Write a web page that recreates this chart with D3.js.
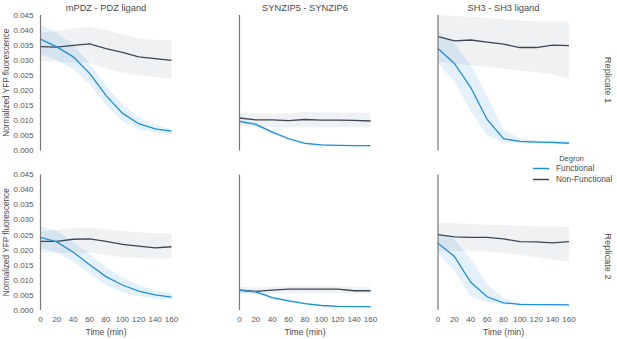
<!DOCTYPE html>
<html>
<head>
<meta charset="utf-8">
<script src="https://cdn.jsdelivr.net/npm/d3@7"></script>
<style>
  body { margin: 0; background: #fff; }
  text { font-family: "Liberation Sans", Arial, sans-serif; }
</style>
</head>
<body>
<div id="chart"></div>
<script>
//////////
// DATA //
//////////

var times = [0, 20, 40, 60, 80, 100, 120, 140, 160];
var yTicks = [0, 0.005, 0.01, 0.015, 0.02, 0.025, 0.03, 0.035, 0.04, 0.045];
var panelTitles = ["mPDZ - PDZ ligand", "SYNZIP5 - SYNZIP6", "SH3 - SH3 ligand"];
var rowTitles = ["Replicate 1", "Replicate 2"];
var degrons = ["Functional", "Non-Functional"];

// mPDZ, replicate 1
var pdzR1Func   = [0.0370, 0.0344, 0.0311, 0.0256, 0.0183, 0.0124, 0.0089, 0.0072, 0.0064];
var pdzR1FuncLo = [0.0320, 0.0300, 0.0270, 0.0220, 0.0152, 0.0097, 0.0070, 0.0060, 0.0056];
var pdzR1FuncHi = [0.0418, 0.0390, 0.0352, 0.0290, 0.0215, 0.0155, 0.0110, 0.0085, 0.0072];
var pdzR1Non    = [0.0345, 0.0343, 0.0349, 0.0354, 0.0338, 0.0326, 0.0311, 0.0305, 0.0299];
var pdzR1NonLo  = [0.0298, 0.0295, 0.0291, 0.0292, 0.0272, 0.0258, 0.0250, 0.0245, 0.0237];
var pdzR1NonHi  = [0.0392, 0.0396, 0.0405, 0.0410, 0.0400, 0.0386, 0.0372, 0.0368, 0.0366];

// mPDZ, replicate 2
var pdzR2Func   = [0.0241, 0.0226, 0.0192, 0.0150, 0.0111, 0.0083, 0.0063, 0.0050, 0.0043];
var pdzR2FuncLo = [0.0206, 0.0192, 0.0160, 0.0120, 0.0082, 0.0060, 0.0046, 0.0038, 0.0035];
var pdzR2FuncHi = [0.0278, 0.0262, 0.0226, 0.0185, 0.0142, 0.0108, 0.0083, 0.0065, 0.0055];
var pdzR2Non    = [0.0228, 0.0228, 0.0235, 0.0236, 0.0228, 0.0218, 0.0212, 0.0206, 0.0210];
var pdzR2NonLo  = [0.0192, 0.0190, 0.0190, 0.0190, 0.0182, 0.0175, 0.0172, 0.0171, 0.0170];
var pdzR2NonHi  = [0.0261, 0.0266, 0.0272, 0.0274, 0.0268, 0.0262, 0.0258, 0.0255, 0.0255];

// SYNZIP, replicate 1
var synR1Func   = [0.0097, 0.0087, 0.0061, 0.0039, 0.0024, 0.0019, 0.0017, 0.0016, 0.0016];
var synR1FuncLo = [0.0092, 0.0081, 0.0055, 0.0034, 0.0020, 0.0016, 0.0015, 0.0014, 0.0014];
var synR1FuncHi = [0.0102, 0.0093, 0.0067, 0.0045, 0.0029, 0.0022, 0.0019, 0.0018, 0.0018];
var synR1Non    = [0.0108, 0.0102, 0.0102, 0.0099, 0.0103, 0.0101, 0.0101, 0.0100, 0.0098];
var synR1NonLo  = [0.0082, 0.0078, 0.0077, 0.0076, 0.0078, 0.0077, 0.0077, 0.0077, 0.0076];
var synR1NonHi  = [0.0126, 0.0124, 0.0124, 0.0123, 0.0128, 0.0126, 0.0126, 0.0125, 0.0124];

// SYNZIP, replicate 2
var synR2Func   = [0.0065, 0.0060, 0.0041, 0.0030, 0.0021, 0.0015, 0.0012, 0.0011, 0.0011];
var synR2FuncLo = [0.0058, 0.0054, 0.0036, 0.0026, 0.0018, 0.0013, 0.0010, 0.0009, 0.0009];
var synR2FuncHi = [0.0072, 0.0066, 0.0046, 0.0034, 0.0024, 0.0017, 0.0014, 0.0013, 0.0013];
var synR2Non    = [0.0066, 0.0062, 0.0066, 0.0069, 0.0069, 0.0069, 0.0069, 0.0064, 0.0064];
var synR2NonLo  = [0.0054, 0.0053, 0.0055, 0.0056, 0.0056, 0.0056, 0.0056, 0.0054, 0.0054];
var synR2NonHi  = [0.0078, 0.0075, 0.0078, 0.0080, 0.0080, 0.0080, 0.0080, 0.0076, 0.0076];

// SH3, replicate 1
var sh3R1Func   = [0.0339, 0.0289, 0.0209, 0.0103, 0.0039, 0.0030, 0.0028, 0.0027, 0.0024];
var sh3R1FuncLo = [0.0290, 0.0230, 0.0130, 0.0050, 0.0028, 0.0025, 0.0023, 0.0022, 0.0021];
var sh3R1FuncHi = [0.0395, 0.0355, 0.0283, 0.0180, 0.0070, 0.0040, 0.0033, 0.0032, 0.0032];
var sh3R1Non    = [0.0378, 0.0364, 0.0367, 0.0360, 0.0353, 0.0342, 0.0342, 0.0350, 0.0348];
var sh3R1NonLo  = [0.0294, 0.0288, 0.0283, 0.0278, 0.0272, 0.0266, 0.0260, 0.0252, 0.0239];
var sh3R1NonHi  = [0.0450, 0.0447, 0.0444, 0.0440, 0.0436, 0.0432, 0.0428, 0.0428, 0.0428];

// SH3, replicate 2
var sh3R2Func   = [0.0222, 0.0178, 0.0092, 0.0044, 0.0024, 0.0019, 0.0018, 0.0018, 0.0017];
var sh3R2FuncLo = [0.0187, 0.0130, 0.0045, 0.0025, 0.0018, 0.0016, 0.0015, 0.0015, 0.0014];
var sh3R2FuncHi = [0.0255, 0.0235, 0.0170, 0.0085, 0.0040, 0.0025, 0.0021, 0.0021, 0.0020];
var sh3R2Non    = [0.0250, 0.0243, 0.0241, 0.0241, 0.0236, 0.0227, 0.0226, 0.0223, 0.0227];
var sh3R2NonLo  = [0.0197, 0.0196, 0.0195, 0.0194, 0.0190, 0.0183, 0.0175, 0.0168, 0.0161];
var sh3R2NonHi  = [0.0291, 0.0288, 0.0286, 0.0283, 0.0282, 0.0280, 0.0278, 0.0277, 0.0276];

// rows x columns
var panels = [
  [ [pdzR1Func, pdzR1FuncLo, pdzR1FuncHi, pdzR1Non, pdzR1NonLo, pdzR1NonHi],
    [synR1Func, synR1FuncLo, synR1FuncHi, synR1Non, synR1NonLo, synR1NonHi],
    [sh3R1Func, sh3R1FuncLo, sh3R1FuncHi, sh3R1Non, sh3R1NonLo, sh3R1NonHi] ],
  [ [pdzR2Func, pdzR2FuncLo, pdzR2FuncHi, pdzR2Non, pdzR2NonLo, pdzR2NonHi],
    [synR2Func, synR2FuncLo, synR2FuncHi, synR2Non, synR2NonLo, synR2NonHi],
    [sh3R2Func, sh3R2FuncLo, sh3R2FuncHi, sh3R2Non, sh3R2NonLo, sh3R2NonHi] ]
];

////////////
// LAYOUT //
////////////

var svgWidth = 617, svgHeight = 339;
var colLeft = [40.5, 239.5, 438];
var rowTop = [15, 174.5];
var panelW = 131, panelH = 135.5;

var funcColor = "#1f8fd8", nonColor = "#3a4756";
var funcBand = "rgba(31,143,216,0.12)", nonBand = "rgba(58,71,96,0.08)";
var tickColor = "#555", axisColor = "#777", labelColor = "#4a4a4a";

var svg = d3.select("#chart").append("svg")
  .attr("width", svgWidth)
  .attr("height", svgHeight);

var x = d3.scaleLinear().domain([0, 160]).range([0, panelW]);
var y = d3.scaleLinear().domain([0, 0.045]).range([panelH, 0]);

function drawPanel(g, p) {
  var area = function(lo, hi) {
    return d3.area()
      .x(function(d, i) { return x(times[i]); })
      .y0(function(d, i) { return y(lo[i]); })
      .y1(function(d, i) { return y(hi[i]); })(times);
  };
  var line = function(vals) {
    return d3.line()
      .x(function(d, i) { return x(times[i]); })
      .y(function(d) { return y(d); })(vals);
  };
  g.append("path").attr("d", area(p[4], p[5])).attr("fill", nonBand);
  g.append("path").attr("d", area(p[1], p[2])).attr("fill", funcBand);
  g.append("path").attr("d", line(p[3])).attr("fill", "none")
    .attr("stroke", nonColor).attr("stroke-width", 1.3);
  g.append("path").attr("d", line(p[0])).attr("fill", "none")
    .attr("stroke", funcColor).attr("stroke-width", 1.3);
}

panels.forEach(function(row, r) {
  row.forEach(function(p, c) {
    var g = svg.append("g")
      .attr("transform", "translate(" + colLeft[c] + "," + rowTop[r] + ")");

    drawPanel(g, p);

    // left spine
    g.append("line")
      .attr("x1", 0).attr("x2", 0).attr("y1", 0).attr("y2", panelH)
      .attr("stroke", axisColor).attr("stroke-width", 1.2);

    // y tick labels only on first column
    if (c === 0) {
      g.selectAll(".ytick").data(yTicks).enter().append("text")
        .attr("x", -7)
        .attr("y", function(d) { return y(d); })
        .attr("dy", "0.35em")
        .attr("text-anchor", "end")
        .attr("font-size", 8)
        .attr("fill", tickColor)
        .text(d3.format(".3f"));

      g.append("text")
        .attr("transform", "translate(-32," + (panelH / 2) + ") rotate(-90)")
        .attr("text-anchor", "middle")
        .attr("font-size", 8.2)
        .attr("fill", labelColor)
        .text("Normalized YFP fluorescence");
    }

    // x tick labels only on bottom row
    if (r === 1) {
      g.selectAll(".xtick").data(times).enter().append("text")
        .attr("x", function(d) { return x(d); })
        .attr("y", panelH + 12)
        .attr("text-anchor", "middle")
        .attr("font-size", 8)
        .attr("fill", tickColor)
        .text(function(d) { return d; });

      g.append("text")
        .attr("x", panelW / 2)
        .attr("y", panelH + 24.5)
        .attr("text-anchor", "middle")
        .attr("font-size", 8.7)
        .attr("fill", labelColor)
        .text("Time (min)");
    }

    if (r === 0) {
      g.append("text")
        .attr("x", panelW / 2)
        .attr("y", -4)
        .attr("text-anchor", "middle")
        .attr("font-size", 9.3)
        .attr("fill", labelColor)
        .text(panelTitles[c]);
    }
  });
});

// row titles on the right
var rowCenters = [80, 256.5];
rowTitles.forEach(function(t, r) {
  svg.append("text")
    .attr("transform", "translate(605," + rowCenters[r] + ") rotate(90)")
    .attr("text-anchor", "middle")
    .attr("font-size", 9.3)
    .attr("fill", labelColor)
    .text(t);
});

// legend
var legend = svg.append("g").attr("transform", "translate(533,158)");
legend.append("text")
  .attr("x", 38.5).attr("y", 0).attr("dy", "0.35em")
  .attr("text-anchor", "middle")
  .attr("font-size", 7.5)
  .attr("fill", labelColor)
  .text("Degron");
degrons.forEach(function(d, i) {
  var yy = 10.5 + i * 11;
  legend.append("line")
    .attr("x1", 0).attr("x2", 16).attr("y1", yy).attr("y2", yy)
    .attr("stroke", i === 0 ? funcColor : nonColor).attr("stroke-width", 1.5);
  legend.append("text")
    .attr("x", 23).attr("y", yy).attr("dy", "0.35em")
    .attr("font-size", 8.3)
    .attr("fill", labelColor)
    .text(d);
});
</script>
</body>
</html>
